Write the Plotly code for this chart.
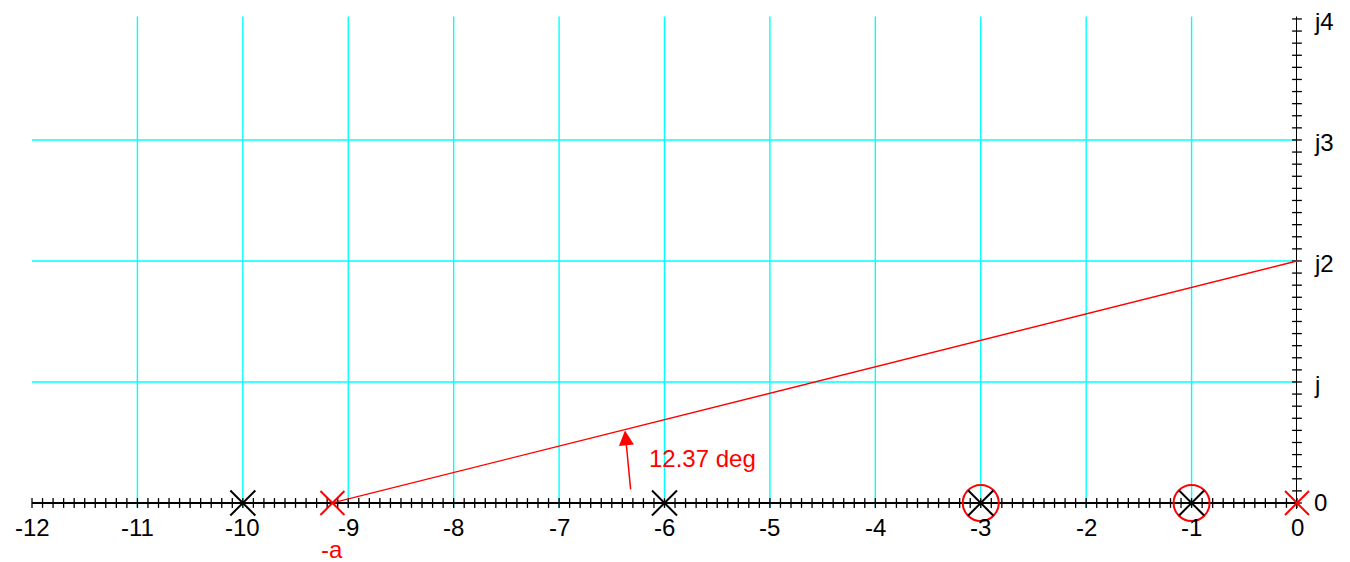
import numpy as np
import plotly.graph_objects as go

# ---- data ----
x_ticks = [-12, -11, -10, -9, -8, -7, -6, -5, -4, -3, -2, -1, 0]
x_tick_labels = ["-12", "-11", "-10", "-9", "-8", "-7", "-6", "-5", "-4", "-3", "-2", "-1", "0"]
y_ticks = [0, 1, 2, 3, 4]
y_tick_labels = ["0", "j", "j2", "j3", "j4"]
grid_x = [-11, -10, -9, -8, -7, -6, -5, -4, -3, -2, -1]
grid_y = [1, 2, 3]
black_poles = [-10, -6, -3, -1]
red_zeros = [-3, -1]
a_value = 9.15
red_poles = [-a_value, 0]
target_point = (0, 2)
angle_label = "12.37 deg"

FONT = "Liberation Sans, Arial, Helvetica, sans-serif"
FS = 24
RED = "#ff0000"
CYAN = "#00ffff"

fig = go.Figure()

# gridlines
gx, gy = [], []
for v in grid_x:
    gx += [v, v, None]
    gy += [-0.04, 4.02, None]
for v in grid_y:
    gx += [-12, 0, None]
    gy += [v, v, None]
fig.add_trace(go.Scatter(x=gx, y=gy, mode="lines", line=dict(color=CYAN, width=1.4),
                         hoverinfo="skip", showlegend=False))

# axes lines
fig.add_trace(go.Scatter(x=[-12, 0.0, None, 0, 0], y=[0, 0, None, -0.05, 4.02], mode="lines",
                         line=dict(color="black", width=2), hoverinfo="skip", showlegend=False,
                         cliponaxis=False))

# minor ticks
xt = np.round(np.arange(-12, 0.0001, 0.1), 2)
fig.add_trace(go.Scatter(x=xt, y=np.zeros_like(xt), mode="markers",
                         marker=dict(symbol="line-ns", size=7, color="black",
                                     line=dict(color="black", width=1.3)),
                         hoverinfo="skip", showlegend=False, cliponaxis=False))
yt = np.round(np.arange(0, 4.0001, 0.1), 2)
fig.add_trace(go.Scatter(x=np.zeros_like(yt), y=yt, mode="markers",
                         marker=dict(symbol="line-ew", size=7, color="black",
                                     line=dict(color="black", width=1.3)),
                         hoverinfo="skip", showlegend=False, cliponaxis=False))

# red line from -a to j2
fig.add_trace(go.Scatter(x=[-a_value, target_point[0]], y=[0, target_point[1]], mode="lines",
                         line=dict(color=RED, width=1.3), hoverinfo="skip", showlegend=False))

# red circles (zeros)
fig.add_trace(go.Scatter(x=red_zeros, y=[0] * len(red_zeros), mode="markers",
                         marker=dict(symbol="circle-open", size=36, color=RED,
                                     line=dict(color=RED, width=2)),
                         showlegend=False, cliponaxis=False))
# black poles
fig.add_trace(go.Scatter(x=black_poles, y=[0] * len(black_poles), mode="markers",
                         marker=dict(symbol="x-thin-open", size=25, color="black",
                                     line=dict(color="black", width=2)),
                         showlegend=False, cliponaxis=False))
# red poles
fig.add_trace(go.Scatter(x=red_poles, y=[0] * len(red_poles), mode="markers",
                         marker=dict(symbol="x-thin-open", size=24, color=RED,
                                     line=dict(color=RED, width=2)),
                         showlegend=False, cliponaxis=False))

# tick labels (x)
for v, lab in zip(x_ticks, x_tick_labels):
    fig.add_annotation(x=v, y=0, yshift=-25, text=lab, showarrow=False,
                       xanchor="center", yanchor="middle",
                       font=dict(family=FONT, size=FS, color="black"))
# tick labels (y)
for v, lab in zip(y_ticks, y_tick_labels):
    fig.add_annotation(x=0, y=v, xshift=15, yshift=(0 if v == 0 else -3), text=lab,
                       showarrow=False, xanchor="left", yanchor="middle",
                       font=dict(family=FONT, size=FS, color="black"))

# -a label
fig.add_annotation(x=-a_value, y=0, yshift=-47, text="-a", showarrow=False,
                   xanchor="center", yanchor="middle",
                   font=dict(family=FONT, size=FS, color=RED))

# angle label and arrow
fig.add_annotation(x=-6.17, y=0.37, text=angle_label, showarrow=False, xanchor="left",
                   yanchor="middle", font=dict(family=FONT, size=FS, color=RED))
fig.add_annotation(x=-6.375, y=0.6, ax=-6.32, ay=0.1, xref="x", yref="y", axref="x", ayref="y",
                   showarrow=True, arrowhead=2, arrowsize=2, arrowwidth=1.5, arrowcolor=RED, text="")

fig.update_layout(
    width=1350, height=562,
    margin=dict(l=32, r=53, t=10, b=10, autoexpand=False),
    plot_bgcolor="white", paper_bgcolor="white",
    xaxis=dict(range=[-12, 0], visible=False, fixedrange=True),
    yaxis=dict(range=[-0.405, 4.074], visible=False, fixedrange=True),
)

fig.write_html("out.html", config={"displayModeBar": False},
               post_script="document.body.style.margin='0';")
